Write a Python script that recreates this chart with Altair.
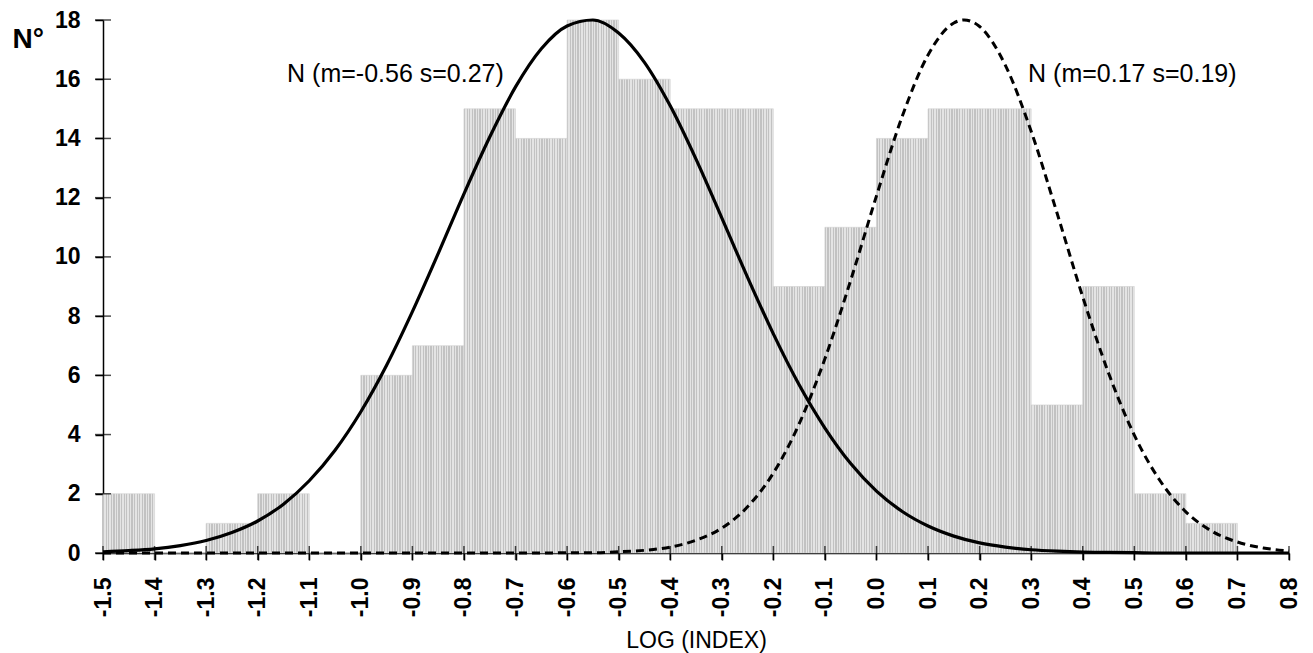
import altair as alt
import pandas as pd

# ---------------- data ----------------
bin_start = [-1.5, -1.4, -1.3, -1.2, -1.1, -1.0, -0.9, -0.8, -0.7, -0.6, -0.5, -0.4,
             -0.3, -0.2, -0.1, 0.0, 0.1, 0.2, 0.3, 0.4, 0.5, 0.6, 0.7]
bin_end = [-1.4, -1.3, -1.2, -1.1, -1.0, -0.9, -0.8, -0.7, -0.6, -0.5, -0.4, -0.3,
           -0.2, -0.1, 0.0, 0.1, 0.2, 0.3, 0.4, 0.5, 0.6, 0.7, 0.8]
counts = [2, 0, 1, 2, 0, 6, 7, 15, 14, 18, 16, 15, 15, 9, 11, 14, 15, 15, 5, 9, 2, 1, 0]

# solid curve  N (m=-0.56 s=0.27)
solid_x = [-1.5, -1.45, -1.4, -1.35, -1.3, -1.25, -1.2, -1.15, -1.1, -1.05, -1.0, -0.95,
           -0.9, -0.85, -0.8, -0.75, -0.7, -0.65, -0.6, -0.55, -0.5, -0.45, -0.4, -0.35,
           -0.3, -0.25, -0.2, -0.15, -0.1, -0.05, 0.0, 0.05, 0.1, 0.15, 0.2, 0.25, 0.3,
           0.35, 0.4, 0.45, 0.5, 0.55, 0.6, 0.65, 0.7, 0.75, 0.8]
solid_y = [0.04, 0.08, 0.14, 0.25, 0.42, 0.69, 1.08, 1.65, 2.44, 3.47, 4.77, 6.34,
           8.15, 10.11, 12.13, 14.05, 15.74, 17.03, 17.80, 18.0, 17.56, 16.57, 15.10, 13.30,
           11.32, 9.31, 7.40, 5.68, 4.22, 3.02, 2.09, 1.40, 0.91, 0.57, 0.34, 0.20, 0.11,
           0.06, 0.03, 0.02, 0.01, 0.0, 0.0, 0.0, 0.0, 0.0, 0.0]

# dashed curve  N (m=0.17 s=0.19)
dash_x = [-1.5, -1.45, -1.4, -1.35, -1.3, -1.25, -1.2, -1.15, -1.1, -1.05, -1.0, -0.95,
          -0.9, -0.85, -0.8, -0.75, -0.7, -0.65, -0.6, -0.55, -0.5, -0.45, -0.4, -0.35,
          -0.3, -0.25, -0.2, -0.15, -0.1, -0.05, 0.0, 0.05, 0.1, 0.15, 0.17, 0.2, 0.25,
          0.3, 0.35, 0.4, 0.45, 0.5, 0.55, 0.6, 0.65, 0.7, 0.75, 0.8]
dash_y = [0.0, 0.0, 0.0, 0.0, 0.0, 0.0, 0.0, 0.0, 0.0, 0.0, 0.0, 0.0,
          0.0, 0.0, 0.0, 0.0, 0.0, 0.0, 0.01, 0.01, 0.04, 0.09, 0.20, 0.43,
          0.84, 1.56, 2.70, 4.36, 6.56, 9.21, 12.06, 14.75, 16.82, 17.90, 18.0, 17.78, 16.47,
          14.24, 11.49, 8.65, 6.08, 3.98, 2.44, 1.39, 0.74, 0.37, 0.17, 0.07]

x_ticks = [-1.5, -1.4, -1.3, -1.2, -1.1, -1.0, -0.9, -0.8, -0.7, -0.6, -0.5, -0.4,
           -0.3, -0.2, -0.1, 0.0, 0.1, 0.2, 0.3, 0.4, 0.5, 0.6, 0.7, 0.8]
y_ticks = [0, 2, 4, 6, 8, 10, 12, 14, 16, 18]

label_text = ["N (m=-0.56 s=0.27)", "N (m=0.17 s=0.19)"]
label_x = [-1.143, 0.294]
label_y = [15.9, 15.9]

FONT = "Liberation Sans"

bars_df = pd.DataFrame({"x": bin_start, "x2": bin_end, "y": counts})
solid_df = pd.DataFrame({"x": solid_x, "y": solid_y})
dash_df = pd.DataFrame({"x": dash_x, "y": dash_y})
xt_df = pd.DataFrame({"x": x_ticks, "y": [0] * len(x_ticks)})
yt_df = pd.DataFrame({"y": y_ticks, "x": [-1.5] * len(y_ticks)})
lab_df = pd.DataFrame({"x": label_x, "y": label_y, "t": label_text})

# stippled (vertically streaked) grey fill for the histogram bars
n_stripes = 20
stops = []
for i in range(n_stripes):
    a = i / n_stripes
    m = (i + 0.5) / n_stripes
    b = (i + 1) / n_stripes
    stops += [
        {"offset": a, "color": "#c2c2c2"},
        {"offset": m, "color": "#c2c2c2"},
        {"offset": m, "color": "#e4e4e4"},
        {"offset": b, "color": "#e4e4e4"},
    ]
stripe_fill = {"gradient": "linear", "x1": 0, "x2": 1, "y1": 0, "y2": 0, "stops": stops}

xscale = alt.Scale(domain=[-1.5, 0.8], nice=False, zero=False)
yscale = alt.Scale(domain=[0, 18], nice=False)

X = alt.X("x:Q", scale=xscale, title="LOG (INDEX)",
          axis=alt.Axis(values=x_ticks,
                        labelExpr="replace(format(datum.value, '.1f'), '\u2212', '-')",
                        labelAngle=-90, labelFontSize=23, labelPadding=17, tickSize=7,
                        titleFontSize=23, titleFontWeight="normal",
                        titleY=94, titleBaseline="alphabetic"))
Y = alt.Y("y:Q", scale=yscale, title="N°",
          axis=alt.Axis(values=y_ticks, labelFontSize=23, labelPadding=15, tickSize=8,
                        titleFontSize=28, titleFontWeight="bold", titleAngle=0,
                        titleAlign="left", titleBaseline="alphabetic",
                        titleX=-91, titleY=27))

bars = alt.Chart(bars_df).mark_rect(fill=stripe_fill, stroke="#d0d0d0",
                                    strokeWidth=0.6).encode(
    x=X, x2="x2:Q", y=Y, y2=alt.datum(0),
)

solid = alt.Chart(solid_df).mark_line(color="black", strokeWidth=3.2,
                                      interpolate="monotone").encode(x=X, y=Y)

dashed = alt.Chart(dash_df).mark_line(color="black", strokeWidth=3, strokeDash=[8, 5],
                                      interpolate="monotone").encode(x=X, y=Y)

xcross = alt.Chart(xt_df).mark_tick(orient="vertical", size=14, thickness=1.5,
                                    color="black").encode(x=X, y=Y)

ycross = alt.Chart(yt_df).mark_tick(orient="horizontal", size=16, thickness=1.5,
                                    color="black").encode(x=X, y=Y)

labels = alt.Chart(lab_df).mark_text(font=FONT, fontSize=25, align="left",
                                     baseline="alphabetic", color="black").encode(
    x=X, y=Y, text="t:N",
)

chart = alt.layer(bars, solid, dashed, xcross, ycross, labels).properties(
    width=1186, height=533,
    autosize=alt.AutoSizeParams(type="none"),
    padding={"left": 95, "top": 12, "right": 16, "bottom": 100},
    background="white",
).configure_view(stroke=None).configure_axis(
    labelFont=FONT, labelFontWeight="bold", labelColor="black",
    titleFont=FONT, titleColor="black",
    tickColor="black", tickWidth=1.5, domainColor="black", domainWidth=1.5,
    grid=False,
)

chart.save("out.html", embed_options={"renderer": "svg", "actions": False})
